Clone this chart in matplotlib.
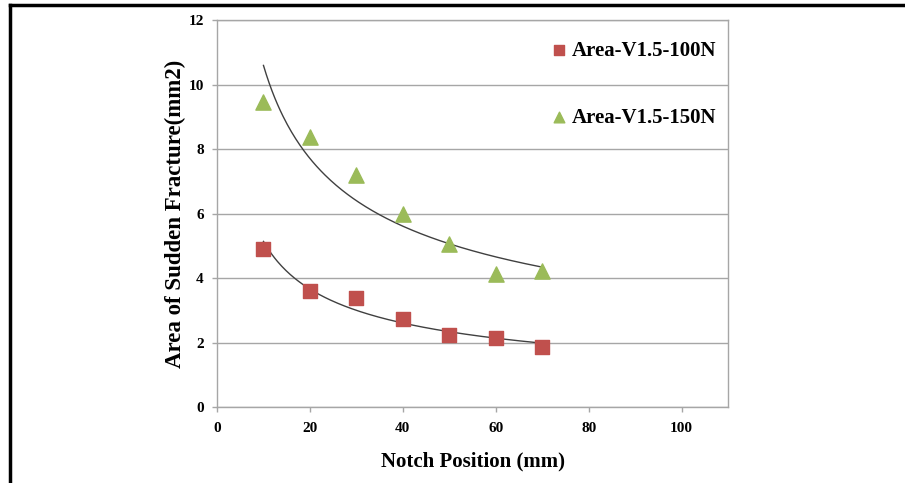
import matplotlib
matplotlib.use("Agg")
import matplotlib.pyplot as plt
import numpy as np

# notch position (mm)
notch_pos = [10, 20, 30, 40, 50, 60, 70]
area_100n = [4.90, 3.60, 3.38, 2.72, 2.23, 2.14, 1.87]
area_150n = [9.46, 8.37, 7.20, 5.98, 5.05, 4.12, 4.22]

labels = ["Area-V1.5-100N", "Area-V1.5-150N"]
x_ticks = [0, 20, 40, 60, 80, 100]
y_ticks = [0, 2, 4, 6, 8, 10, 12]

RED = "#C0504D"
GREEN = "#9BBB59"
GRID = "#A6A6A6"
SERIF = ["Liberation Serif", "DejaVu Serif"]


def power_fit(x, y):
    """Excel style power trendline y = a * x^b"""
    b, ln_a = np.polyfit(np.log(x), np.log(y), 1)
    xs = np.linspace(min(x), max(x), 200)
    return xs, np.exp(ln_a) * xs ** b


fig = plt.figure(figsize=(9.05, 4.83), dpi=100)
ax = fig.add_axes([0.2398, 0.1573, 0.5646, 0.8013])

# outer frame (top + left only)
fig.add_artist(plt.Line2D([0.0105, 1.0], [0.9896, 0.9896], color="black", lw=2.5,
                          transform=fig.transFigure))
fig.add_artist(plt.Line2D([0.0111, 0.0111], [0.0, 0.9896], color="black", lw=2.5,
                          transform=fig.transFigure))

ax.scatter(notch_pos, area_100n, marker="s", s=110, color=RED, label=labels[0], zorder=3)
ax.scatter(notch_pos, area_150n, marker="^", s=120, color=GREEN, label=labels[1], zorder=3)

for y in (area_100n, area_150n):
    xs, ys = power_fit(notch_pos, y)
    ax.plot(xs, ys, color="#404040", lw=1.0, zorder=2)

ax.set_xlim(0, 110)
ax.set_ylim(0, 12)
ax.set_xticks(x_ticks)
ax.set_yticks(y_ticks)
ax.yaxis.grid(True, color=GRID, lw=1.0)
ax.set_axisbelow(True)
for sp in ax.spines.values():
    sp.set_color(GRID)
    sp.set_linewidth(1.0)
ax.tick_params(colors=GRID, length=3.6, width=1.0)
ax.tick_params(axis="x", pad=7)
ax.tick_params(axis="y", pad=6)
for lab in ax.get_xticklabels() + ax.get_yticklabels():
    lab.set_fontfamily(SERIF)
    lab.set_fontweight("bold")
    lab.set_fontsize(11)
    lab.set_color("black")

ax.set_xlabel("Notch Position (mm)", family=SERIF, weight="bold", fontsize=15, labelpad=12)
ax.set_ylabel("Area of Sudden Fracture(mm2)", family=SERIF, weight="bold", fontsize=16.5,
              labelpad=2)

ax.legend(loc="upper left", bbox_to_anchor=(0.62, 0.995), frameon=False,
          prop={"family": SERIF, "weight": "bold", "size": 15},
          labelspacing=2.25, handlelength=0.6, handletextpad=0.3, markerscale=0.7,
          scatterpoints=1)

fig.savefig("out.png", dpi=100, facecolor="white")
